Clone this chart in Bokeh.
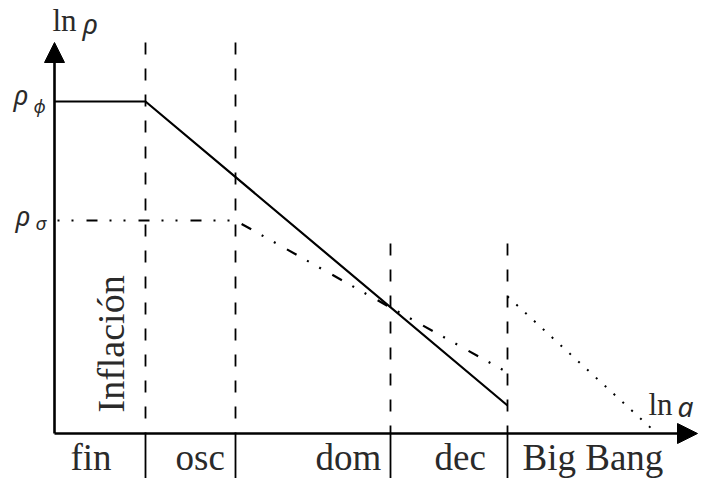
import math
from bokeh.plotting import figure
from bokeh.models import Range1d, Label, Arrow, NormalHead
from bokeh.embed import file_html
from bokeh.resources import INLINE

# ---- data (ln a on x, ln rho on y; schematic units) ----
epoch_bounds = [0.91, 1.81, 3.36, 4.53]          # fin|osc, osc|dom, dom|dec, dec|Big Bang
marker_tops = [3.91, 3.91, 1.90, 1.90]           # top of the dashed epoch markers
epoch_names = ["fin", "osc", "dom", "dec", "Big Bang"]

phi_ln_a = [0.0, 0.91, 4.53]                     # inflaton energy density
phi_ln_rho = [3.32, 3.32, 0.28]

sigma_ln_a = [0.0, 1.81, 3.36, 4.53]             # curvaton energy density
sigma_ln_rho = [2.13, 2.13, 1.26, 0.61]

rad_ln_a = [4.53, 5.98]                          # radiation after the Big Bang
rad_ln_rho = [1.37, 0.04]

ln_a_max = 6.43
ln_rho_max = 3.91
sep_bottom = -0.62

# ---- figure ----
p = figure(width=699, height=478, output_backend="svg", toolbar_location=None,
           x_range=Range1d(-0.54, 6.45), y_range=Range1d(-0.45, 4.33),
           x_axis_type=None, y_axis_type=None, min_border=0)
p.grid.visible = False
p.outline_line_color = None
p.background_fill_color = "white"
p.border_fill_color = "white"

# dashed epoch markers above axis
p.segment(x0=epoch_bounds, y0=marker_tops, x1=epoch_bounds, y1=[0]*4,
          line_color="black", line_width=1.8, line_dash="12 14")
# solid separators below axis
p.segment(x0=epoch_bounds, y0=[0]*4, x1=epoch_bounds, y1=[sep_bottom]*4,
          line_color="black", line_width=1.8)

# curves
p.line(phi_ln_a, phi_ln_rho, line_color="black", line_width=2.2)
p.line(sigma_ln_a, sigma_ln_rho, line_color="black", line_width=2.2,
       line_dash="11 12 2 12 2 13", line_dash_offset=20)
p.line(rad_ln_a, rad_ln_rho, line_color="black", line_width=2,
       line_dash="2 10")

# axes with arrows
p.add_layout(Arrow(x_start=0, y_start=0, x_end=ln_a_max, y_end=0,
                   line_width=2.6, line_color="black",
                   end=NormalHead(size=20, fill_color="black", line_color="black", line_width=1)))
p.add_layout(Arrow(x_start=0, y_start=0, x_end=0, y_end=ln_rho_max,
                   line_width=2.6, line_color="black",
                   end=NormalHead(size=20, fill_color="black", line_color="black", line_width=1)))

SERIF = "Liberation Serif"
SANS = "Noto Sans"
TC = "#2a2a2a"

def lab(x, y, t, font, size, style="normal", angle=0.0, align="left"):
    p.add_layout(Label(x=x, y=y, text=t, text_font=font, text_font_size=f"{size}px",
                       text_font_style=style, text_color=TC, text_baseline="alphabetic",
                       text_align=align, angle=angle))

# axis titles
lab(-0.02, 4.13, "ln", SERIF, 31)
lab(0.28, 4.11, "ρ", SANS, 28, "italic")
lab(5.94, 0.29, "ln", SERIF, 31)
lab(6.23, 0.28, "a", SANS, 28, "italic")

# y markers
lab(-0.41, 3.39, "ρ", SANS, 27, "italic")
lab(-0.21, 3.275, "ϕ", SANS, 18, "italic")
lab(-0.39, 2.18, "ρ", SANS, 27, "italic")
lab(-0.19, 2.105, "σ", SANS, 19, "italic")

# epoch labels under the axis
label_x = [0.16, 1.21, 2.61, 3.80, 4.68]
for xx, name in zip(label_x, epoch_names):
    lab(xx, -0.24, name, SERIF, 37)

# rotated inflation label
lab(0.56, 0.21, "Inflación", SERIF, 38, angle=math.pi / 2)

open("out.html", "w").write(file_html(p, INLINE))
